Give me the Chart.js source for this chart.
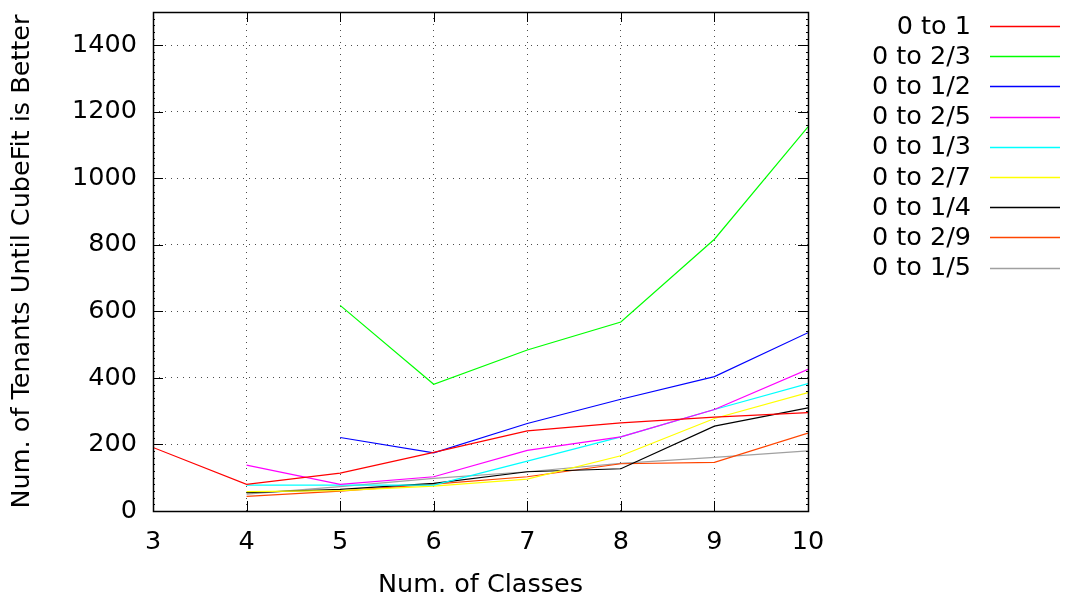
<!DOCTYPE html>
<html>
<head>
<meta charset="utf-8">
<script src="https://cdn.jsdelivr.net/npm/chart.js@4.4.1/dist/chart.umd.min.js"></script>
<style>
  html, body { margin: 0; padding: 0; background: #ffffff; }
  #wrap { width: 1071px; height: 603px; position: relative; }
</style>
</head>
<body>
<div id="wrap"><canvas id="c" width="1071" height="603"></canvas></div>
<script>
// ---- data ----
const classes = [3, 4, 5, 6, 7, 8, 9, 10];
const seriesLabels = ['0 to 1', '0 to 2/3', '0 to 1/2', '0 to 2/5', '0 to 1/3', '0 to 2/7', '0 to 1/4', '0 to 2/9', '0 to 1/5'];
const s0to1   = [191, 80, 114, 176, 241, 265, 282, 296];
const s0to2_3 = [null, null, 618, 381, 484, 568, 817, 1155];
const s0to1_2 = [null, null, 221, 175, 263, 336, 404, 536];
const s0to2_5 = [null, 138, 80, 103, 182, 223, 305, 426];
const s0to1_3 = [null, 78, 78, 78, 150, 223, 305, 383];
const s0to2_7 = [null, 58, 61, 75, 96, 166, 278, 356];
const s0to1_4 = [null, 55, 65, 83, 118, 127, 255, 310];
const s0to2_9 = [null, 44, 60, 81, 103, 142, 146, 234];
const s0to1_5 = [null, 51, 73, 98, 118, 143, 161, 181];
const yTicks = [0, 200, 400, 600, 800, 1000, 1200, 1400];
const xTicks = [3, 4, 5, 6, 7, 8, 9, 10];

const seriesValues = [s0to1, s0to2_3, s0to1_2, s0to2_5, s0to1_3, s0to2_7, s0to1_4, s0to2_9, s0to1_5];
const colors = ['#ff0000', '#00ff00', '#0000ff', '#ff00ff', '#00ffff', '#ffff00', '#000000', '#ff4500', '#a0a0a0'];

const FONT = 'DejaVu Sans';
const FS = 25.5;

const datasets = seriesValues.map((vals, i) => ({
  label: seriesLabels[i],
  data: classes.map((c, j) => vals[j] === null ? null : { x: c, y: vals[j] }).filter(p => p !== null),
  borderColor: colors[i],
  backgroundColor: colors[i],
  borderWidth: 1.2,
  pointRadius: 0,
  fill: false,
  tension: 0
}));

// frame, inward ticks, legend
const gnuplotDecor = {
  id: 'gnuplotDecor',
  afterDatasetsDraw(chart) {
    const ctx = chart.ctx;
    const a = chart.chartArea;
    const xs = chart.scales.x, ys = chart.scales.y;
    ctx.save();
    ctx.strokeStyle = '#000';
    ctx.lineWidth = 1;
    ctx.beginPath();
    yTicks.forEach(v => {
      const py = Math.round(ys.getPixelForValue(v)) + 0.5;
      ctx.moveTo(a.left, py); ctx.lineTo(a.left + 10, py);
      ctx.moveTo(a.right, py); ctx.lineTo(a.right - 10, py);
    });
    for (let v = 0; v <= 1500; v += 20) {
      const py = Math.round(ys.getPixelForValue(v)) + 0.5;
      ctx.moveTo(a.left, py); ctx.lineTo(a.left + 2, py);
      ctx.moveTo(a.right, py); ctx.lineTo(a.right - 2, py);
    }
    xTicks.forEach(v => {
      const px = Math.round(xs.getPixelForValue(v)) + 0.5;
      ctx.moveTo(px, a.bottom); ctx.lineTo(px, a.bottom - 10);
      ctx.moveTo(px, a.top); ctx.lineTo(px, a.top + 10);
    });
    ctx.stroke();
    ctx.lineWidth = 1.5;
    ctx.strokeRect(Math.round(a.left) + 0.5, Math.round(a.top) + 0.5, Math.round(a.right - a.left), Math.round(a.bottom - a.top));

    // legend
    ctx.font = FS + 'px "' + FONT + '"';
    ctx.textAlign = 'right';
    ctx.textBaseline = 'middle';
    chart.data.datasets.forEach((ds, i) => {
      const y = 27 + i * 30.2;
      ctx.fillStyle = '#000';
      ctx.fillText(ds.label, 971, y);
      ctx.strokeStyle = ds.borderColor;
      ctx.lineWidth = 1.6;
      ctx.beginPath();
      ctx.moveTo(990, Math.round(y) - 0.5);
      ctx.lineTo(1060, Math.round(y) - 0.5);
      ctx.stroke();
    });
    ctx.restore();
  }
};

new Chart(document.getElementById('c'), {
  type: 'line',
  data: { datasets },
  plugins: [gnuplotDecor],
  options: {
    responsive: false,
    animation: false,
    events: [],
    layout: { padding: { top: 12, right: 263, left: 0, bottom: 0 } },
    plugins: { legend: { display: false }, tooltip: { enabled: false } },
    scales: {
      x: {
        type: 'linear',
        min: 3, max: 10,
        afterBuildTicks: s => { s.ticks = xTicks.map(v => ({ value: v })); },
        afterFit: s => { s.height = 92; s.paddingLeft = 0; s.paddingRight = 0; },
        ticks: { padding: 16, color: '#000', font: { family: FONT, size: FS }, callback: v => String(v) },
        grid: { color: 'rgba(0,0,0,0.7)', lineWidth: 1, drawTicks: false },
        border: { display: false, dash: [1, 5] },
        title: { display: true, text: 'Num. of Classes', color: '#000', font: { family: FONT, size: FS }, padding: { top: 2, bottom: 2 } }
      },
      y: {
        type: 'linear',
        min: 0, max: 1500,
        afterBuildTicks: s => { s.ticks = yTicks.map(v => ({ value: v })); },
        afterFit: s => { s.width = 153; s.paddingTop = 0; s.paddingBottom = 0; },
        ticks: { padding: 16, color: '#000', font: { family: FONT, size: FS }, callback: v => String(v) },
        grid: { color: 'rgba(0,0,0,0.7)', lineWidth: 1, drawTicks: false },
        border: { display: false, dash: [1, 5] },
        title: { display: true, text: 'Num. of Tenants Until CubeFit is Better', color: '#000', font: { family: FONT, size: FS }, padding: { top: 7, bottom: 0 } }
      }
    }
  }
});
</script>
</body>
</html>
